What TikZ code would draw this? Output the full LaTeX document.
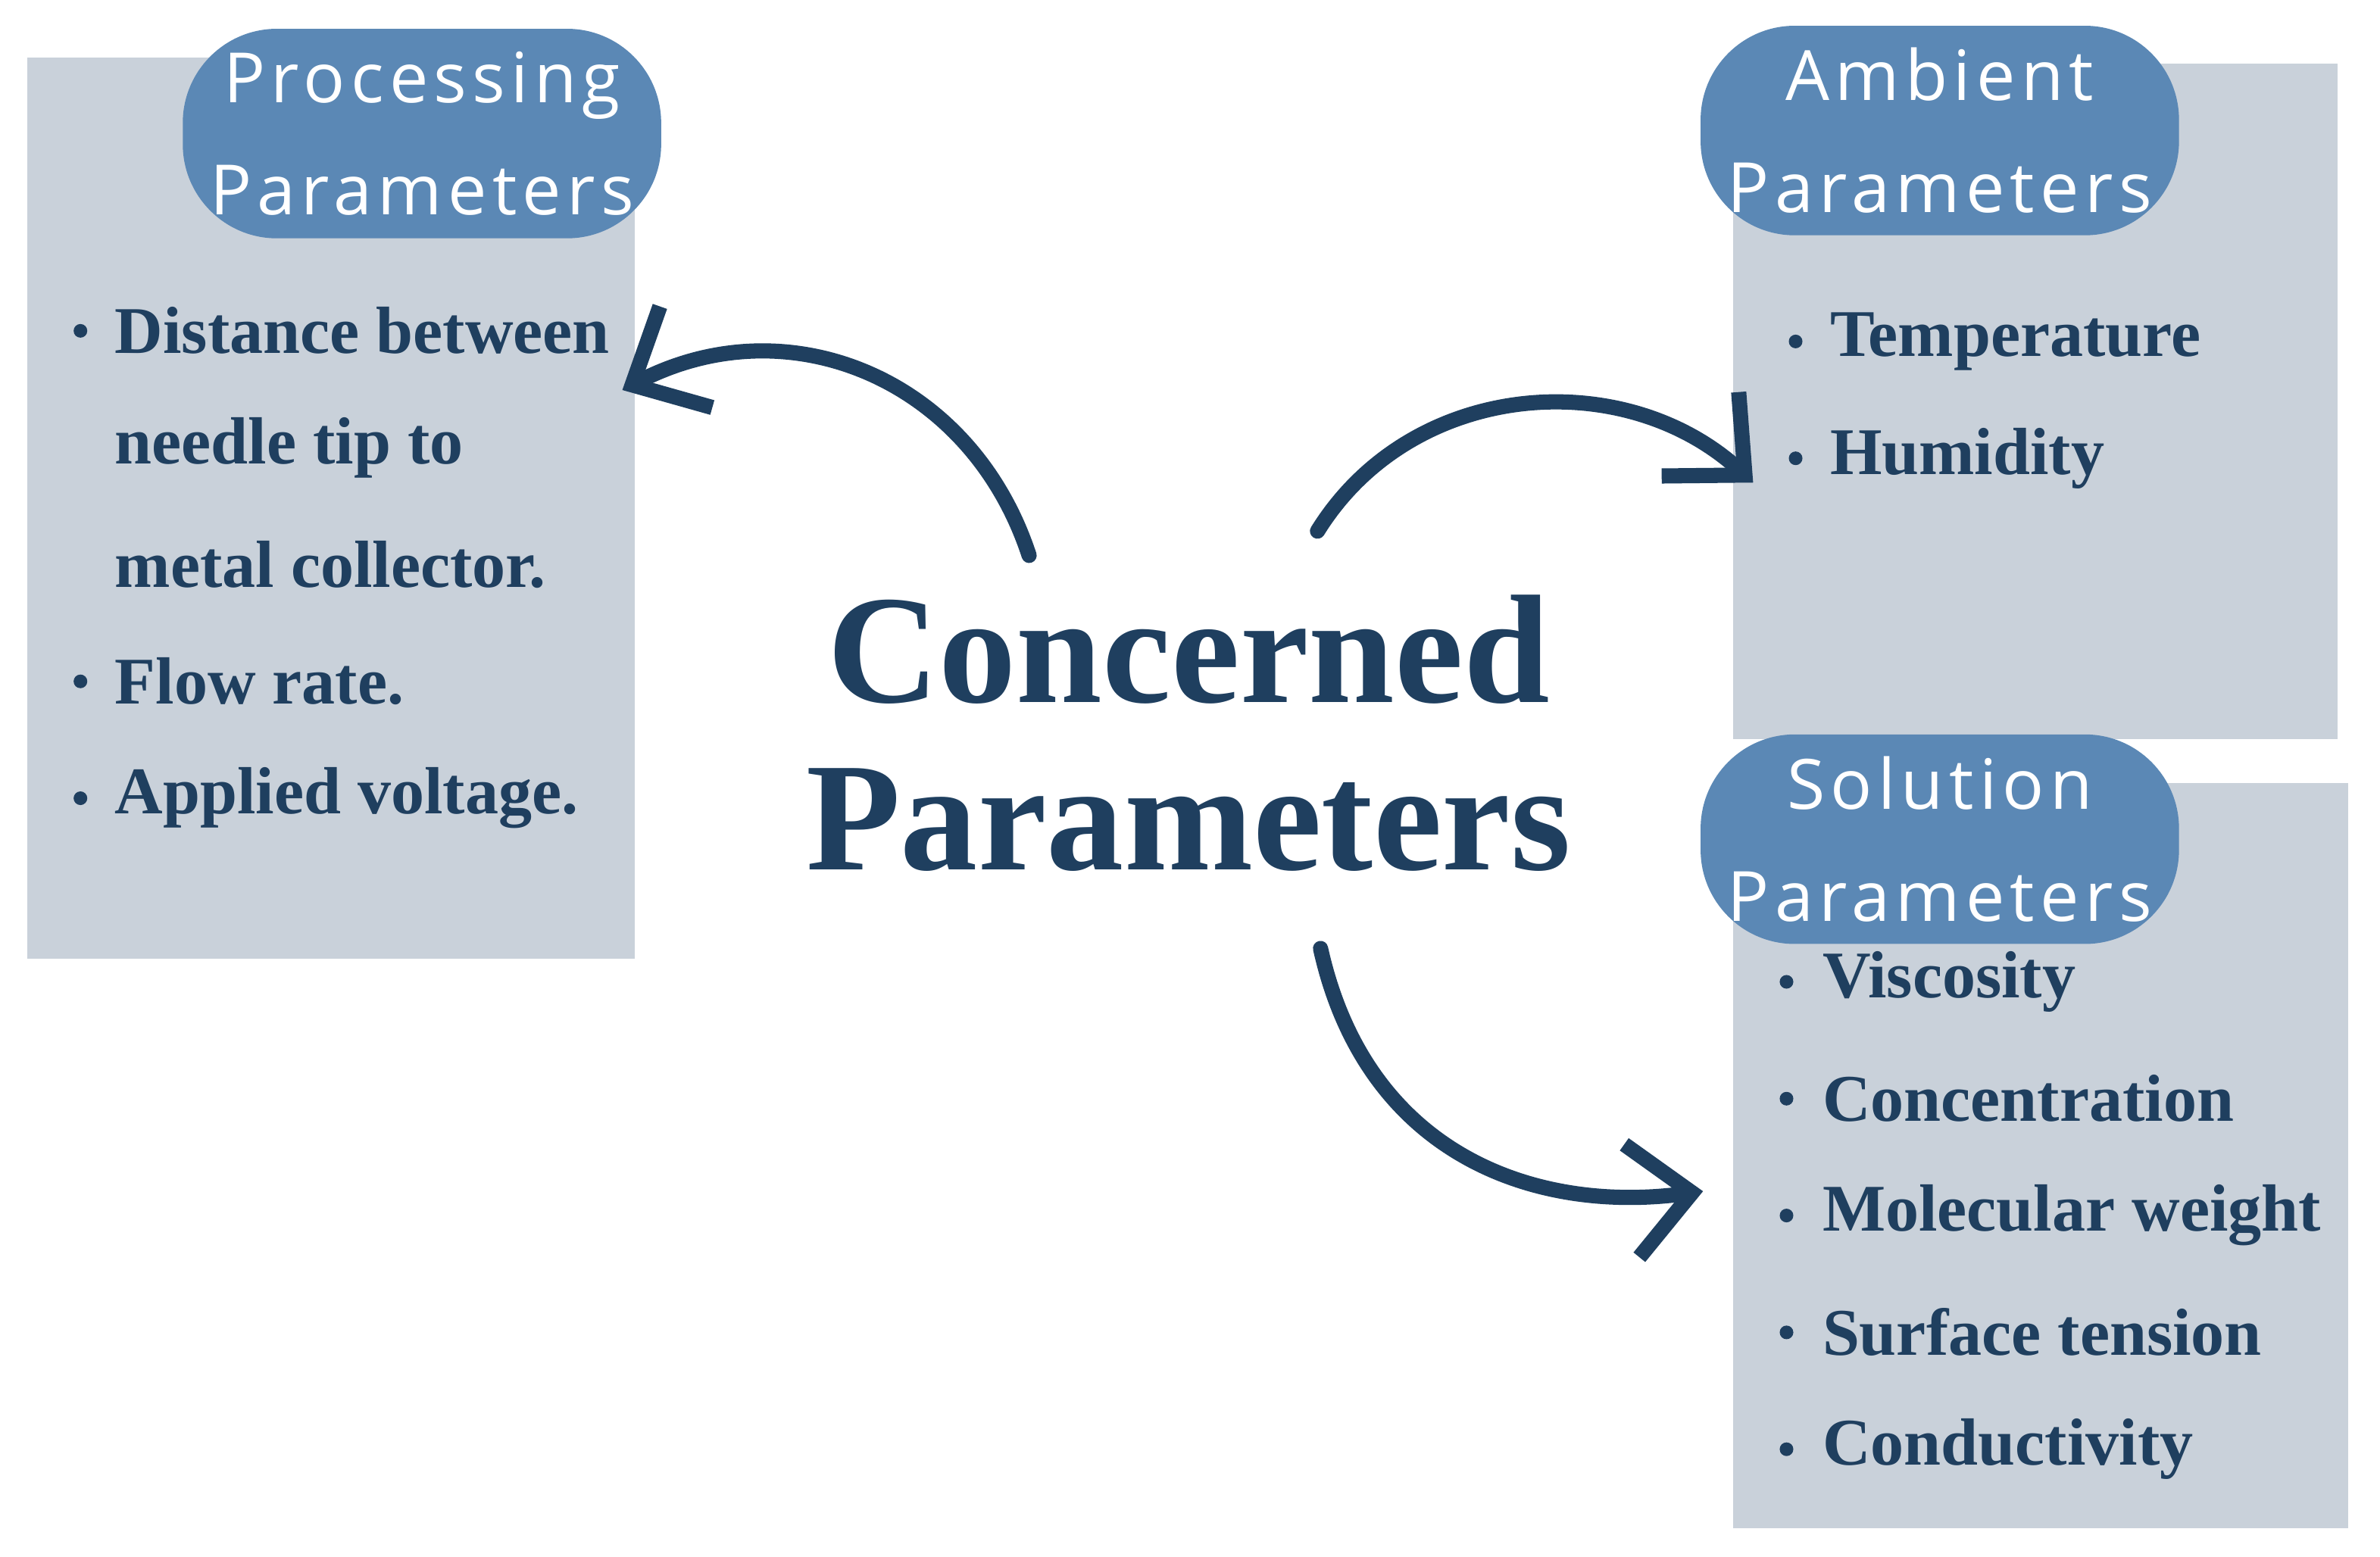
\documentclass[tikz,border=0pt]{standalone}
\usepackage{fontspec}
\setmainfont{Liberation Serif}
\newfontfamily\blobfont[LetterSpace=8]{Open Sans}
\usetikzlibrary{arrows.meta}
\definecolor{boxgray}{HTML}{C9D1DA}
\definecolor{blobblue}{HTML}{5B88B5}
\definecolor{navy}{HTML}{1F3F5F}
\begin{document}
\begin{tikzpicture}[x=0.01cm,y=-0.01cm,
  panel/.style={fill=boxgray,draw=none},
  blob/.style={fill=blobblue,draw=none,rounded corners=0.62cm,minimum width=3.15cm,minimum height=1.38cm,align=center,text=white,font=\blobfont\fontsize{13}{21}\selectfont,inner sep=0pt},
  item/.style={anchor=west,text=navy,font=\bfseries\fontsize{12.5}{15}\selectfont,inner sep=0pt},
  bul/.style={circle,fill=navy,minimum size=0.09cm,inner sep=0pt},
  title/.style={text=navy,font=\bfseries\fontsize{29}{32}\selectfont,inner sep=0pt},
  arr/.style={draw=navy,line width=0.1cm,line cap=round,-{Straight Barb[length=0.4cm,width=0.75cm,line width=0.1cm]}}]
\useasboundingbox[fill=white] (0,0) rectangle (1568,1026);
% panels
\fill[panel] (18,38) rectangle (418,632);
\fill[panel] (1142,42) rectangle (1540,487);
\fill[panel] (1142,516) rectangle (1547,1007);
\node[blob] (b1) at (278,88) {Processing\\Parameters};
\node[blob] (b2) at (1278,86) {Ambient\\Parameters};
\node[blob] (b3) at (1278,553) {Solution\\Parameters};
% left items
\foreach \n/\y/\t/\b in {l1/218/Distance between/1,l2/295/needle tip to/0,l3/372/metal collector./0,l4/449/Flow rate./1,l5/526/Applied voltage./1}{
  \node[item] (\n) at (75,\y) {\t};
  \ifnum\b=1 \node[bul] (\n b) at (53,\y) {};\fi
}
\foreach \n/\y/\t in {a1/225/Temperature,a2/302/Humidity}{
  \node[item] (\n) at (1205,\y) {\t};
  \node[bul] (\n b) at (1183,\y) {};
}
\foreach \n/\y/\t in {s1/647/Viscosity,s2/724/Concentration,s3/801/Molecular weight,s4/878/Surface tension,s5/955/Conductivity}{
  \node[item] (\n) at (1200,\y) {\t};
  \node[bul] (\n b) at (1177,\y) {};
}
\node[title] (t1) at (783,428) {Concerned};
\node[title] (t2) at (783,540) {Parameters};
% arrows
\coordinate (p1s) at (678,366);
\coordinate (p1e) at (410,257);
\coordinate (p2s) at (868,350);
\coordinate (p2e) at (1155,318);
\coordinate (p3s) at (870,625);
\coordinate (p3e) at (1122,785);
\draw[arr] (p1s) .. controls (640,250) and (520,200) .. (p1e);
\draw[arr] (p2s) .. controls (930,250) and (1070,240) .. (p2e);
\draw[arr] (p3s) .. controls (900,760) and (1010,800) .. (p3e);
\end{tikzpicture}
\end{document}
